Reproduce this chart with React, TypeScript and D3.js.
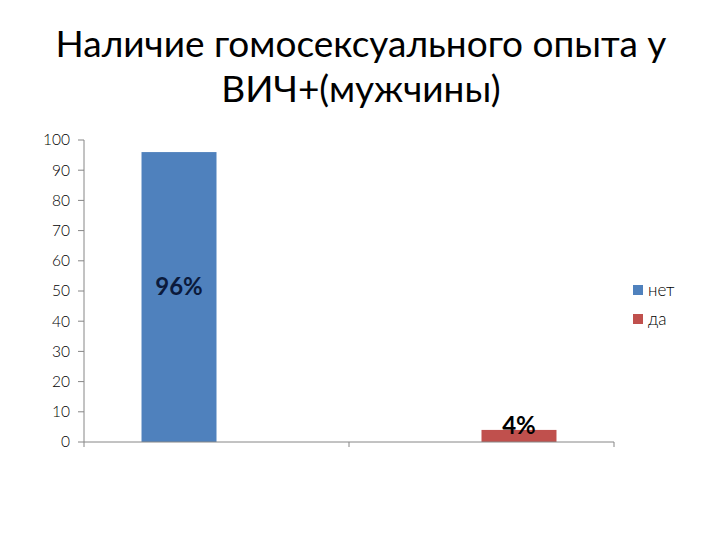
import React from "react";
import * as d3 from "d3";

const titleLines = ["Наличие гомосексуального опыта у", "ВИЧ+(мужчины)"];
const categories = ["1", "2"];
const seriesNames = ["нет", "да"];
const seriesNet = [96, null];
const seriesDa = [null, 4];
const dataLabels = [["96%", ""], ["", "4%"]];
const yTicks = [0, 10, 20, 30, 40, 50, 60, 70, 80, 90, 100];
const colors = ["#4F81BD", "#C0504D"];

const FONT = "Lato, 'Open Sans', 'DejaVu Sans', sans-serif";

export default function App() {
  const W = 720, H = 540;
  const left = 84, right = 614, top = 140, bottom = 442;
  const x = d3.scaleBand<string>().domain(categories).range([left, right]).paddingInner(0).paddingOuter(0);
  const inner = d3.scaleBand<string>().domain(seriesNames).range([0, x.bandwidth()]).paddingInner(0).paddingOuter(0.767);
  const y = d3.scaleLinear().domain([0, 100]).range([bottom, top]);
  const series = [seriesNet, seriesDa];
  const axisColor = "#868686";

  return (
    <svg width={W} height={H} style={{ position: "absolute", left: 0, top: 0, background: "#fff" }} fontFamily={FONT}>
      <rect width={W} height={H} fill="#fff" />
      {titleLines.map((t, i) => (
        <text key={i} x={361} y={57 + i * 45} textAnchor="middle" fontSize={37} fill="#000">{t}</text>
      ))}
      {/* y axis */}
      <line x1={left} x2={left} y1={top} y2={bottom} stroke={axisColor} />
      {yTicks.map((t) => (
        <g key={t}>
          <line x1={left - 6} x2={left} y1={y(t)} y2={y(t)} stroke={axisColor} />
          <text x={70} y={y(t)} dy="0.35em" textAnchor="end" fontSize={15.5} fontWeight={300} fill="#000">{t}</text>
        </g>
      ))}
      {/* bars */}
      {series.map((s, si) =>
        s.map((v, ci) => {
          if (v == null) return null;
          const bx = (x(categories[ci]) as number) + (inner(seriesNames[si]) as number);
          const bw = inner.bandwidth();
          return <rect key={`${si}-${ci}`} x={bx} y={y(v)} width={bw} height={y(0) - y(v)} fill={colors[si]} />;
        })
      )}
      {/* x axis */}
      <line x1={left} x2={right} y1={bottom} y2={bottom} stroke={axisColor} />
      {[...categories.map((c) => x(c) as number), right].map((px, i) => (
        <line key={i} x1={px} x2={px} y1={bottom} y2={bottom + 5} stroke={axisColor} />
      ))}
      {/* data labels */}
      {series.map((s, si) =>
        s.map((v, ci) => {
          if (v == null || !dataLabels[si][ci]) return null;
          const bx = (x(categories[ci]) as number) + (inner(seriesNames[si]) as number) + inner.bandwidth() / 2;
          const cy = (y(v) + y(0)) / 2 - 10;
          return (
            <text key={`l${si}-${ci}`} x={bx} y={cy} dy="0.35em" textAnchor="middle" fontSize={24} fontWeight="bold" fill={si === 0 ? "#0b1a3c" : "#000"}>
              {dataLabels[si][ci]}
            </text>
          );
        })
      )}
      {/* legend */}
      {seriesNames.map((n, i) => (
        <g key={n}>
          <rect x={633} y={285 + i * 29} width={10} height={10} fill={colors[i]} />
          <text x={648} y={290 + i * 29} dy="0.35em" fontSize={17} fontWeight={300} fill="#000">{n}</text>
        </g>
      ))}
    </svg>
  );
}
